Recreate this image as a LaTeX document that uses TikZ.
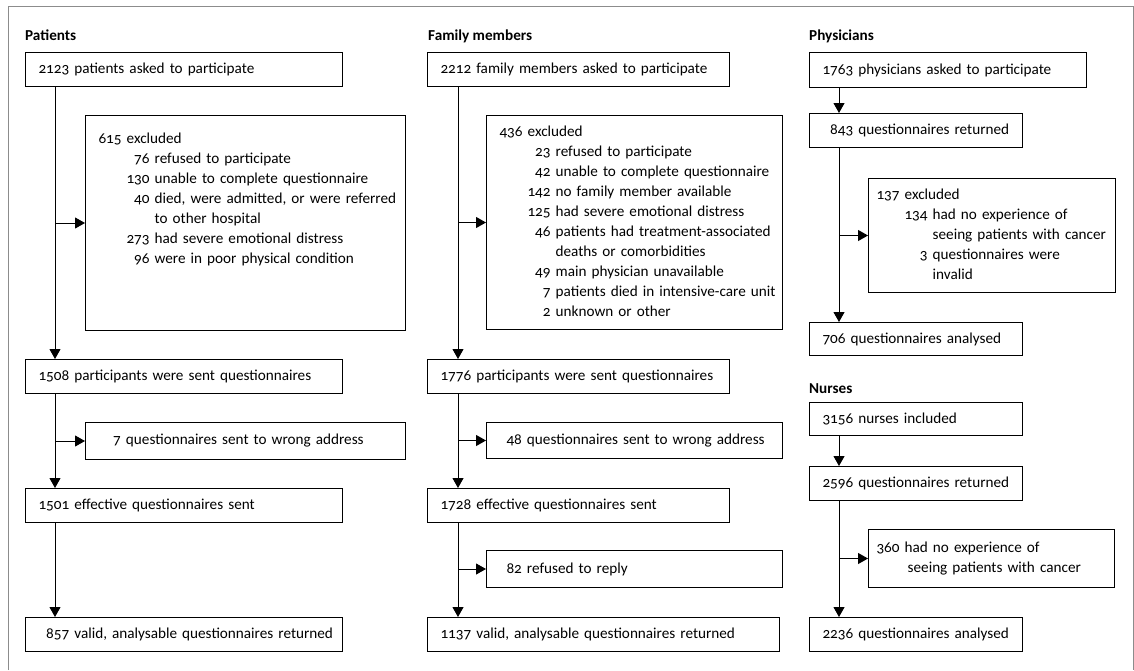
\documentclass[tikz,border=0pt]{standalone}
\usepackage{fontspec}
\setmainfont{Carlito}[Numbers=OldStyle]
\usetikzlibrary{arrows.meta}

\newcommand\txtsize{\fontsize{15.2}{20}\selectfont}

\tikzset{
  box/.style={draw, line width=1pt, anchor=north west, inner xsep=13pt, inner ysep=0pt,
    minimum height=34pt, text width=#1, align=left},
  title/.style={anchor=base west, inner sep=0pt, font=\txtsize\bfseries},
  flow/.style={line width=1pt, -{Triangle[length=10pt,width=11pt]}},
}

\begin{document}
\begin{tikzpicture}[x=1pt, y=-1pt, font=\txtsize]

  \useasboundingbox (0,0) rectangle (1134,670);

  % frame, open at the bottom
  \draw[black!45, line width=1pt] (8,670) -- (8,6) -- (1133,6) -- (1133,670);

  %% Patients
  \node[title] (pt) at (25,40) {Patients};
  \node[box=291] (p1) at (25,52) {\mbox{2123 patients asked to participate}};
  \node[box=294, text height=28pt, text depth=187pt] (pex) at (85,115) {%
    \begin{tabular}[t]{@{\hspace{28pt}}r@{\ }l@{}}
      \multicolumn{2}{@{}l@{}}{615 excluded}\\
      76 & refused to participate\\
      130 & unable to complete questionnaire\\
      40 & died, were admitted, or were referred\\
         & to other hospital\\
      273 & had severe emotional distress\\
      96 & were in poor physical condition
    \end{tabular}};
  \node[box=291] (p2) at (25,359) {\mbox{1508 participants were sent questionnaires}};
  \node[box=280, inner xsep=20pt, minimum height=37pt] (pwa) at (85,422) {\mbox{\hphantom{0}7 questionnaires sent to wrong address}};
  \node[box=291] (p3) at (25,488) {\mbox{1501 effective questionnaires sent}};
  \node[box=291] (p4) at (25,617) {\mbox{\hphantom{0}857 valid, analysable questionnaires returned}};

  \coordinate (px) at (55,0);
  \draw[flow] (p1.south -| px) -- (p2.north -| px); % p1->p2
  \draw[flow] (px |- pex.west) -- (pex.west);
  \draw[flow] (p2.south -| px) -- (p3.north -| px); % p2->p3
  \draw[flow] (px |- pwa.west) -- (pwa.west);
  \draw[flow] (p3.south -| px) -- (p4.north -| px); % p3->p4

  %% Family members
  \node[title] (ft) at (428,40) {Family members};
  \node[box=276] (f1) at (427,52) {\mbox{2212 family members asked to participate}};
  \node[box=270, minimum height=214pt] (fex) at (486,115) {%
    \begin{tabular}{@{\hspace{28pt}}r@{\ }l@{}}
      \multicolumn{2}{@{}l@{}}{436 excluded}\\
      23 & refused to participate\\
      42 & unable to complete questionnaire\\
      142 & no family member available\\
      125 & had severe emotional distress\\
      46 & patients had treatment-associated\\
         & deaths or comorbidities\\
      49 & main physician unavailable\\
      7 & patients died in intensive-care unit\\
      2 & unknown or other
    \end{tabular}};
  \node[box=276] (f2) at (427,359) {\mbox{1776 participants were sent questionnaires}};
  \node[box=256, inner xsep=20pt, minimum height=36pt] (fwa) at (486,422) {\mbox{48 questionnaires sent to wrong address}};
  \node[box=276] (f3) at (427,488) {\mbox{1728 effective questionnaires sent}};
  \node[box=256, inner xsep=20pt, minimum height=37pt] (fref) at (486,550) {\mbox{82 refused to reply}};
  \node[box=326] (f4) at (427,617) {\mbox{1137 valid, analysable questionnaires returned}};

  \coordinate (fx) at (458,0);
  \draw[flow] (f1.south -| fx) -- (f2.north -| fx); % f1->f2
  \draw[flow] (fx |- fex.west) -- (fex.west);
  \draw[flow] (f2.south -| fx) -- (f3.north -| fx); % f2->f3
  \draw[flow] (fx |- fwa.west) -- (fwa.west);
  \draw[flow] (f3.south -| fx) -- (f4.north -| fx); % f3->f4
  \draw[flow] (fx |- fref.west) -- (fref.west);

  %% Physicians
  \node[title] (ht) at (809,40) {Physicians};
  \node[box=251, minimum height=35pt] (h1) at (809,52) {\mbox{1763 physicians asked to participate}};
  \node[box=187] (h2) at (809,113) {\mbox{\hphantom{0}843 questionnaires returned}};
  \node[box=231, inner xsep=8pt, minimum height=114pt] (hex) at (868,178) {%
    \begin{tabular}{@{\hspace{28pt}}r@{\ }l@{}}
      \multicolumn{2}{@{}l@{}}{137 excluded}\\
      134 & had no experience of\\
          & seeing patients with cancer\\
      3 & questionnaires were\\
        & invalid
    \end{tabular}};
  \node[box=187, minimum height=33pt] (h3) at (809,322) {\mbox{706 questionnaires analysed}};

  \coordinate (hx) at (839,0);
  \draw[flow] (h1.south -| hx) -- (h2.north -| hx); % h1->h2
  \draw[flow] (h2.south -| hx) -- (h3.north -| hx); % h2->h3
  \draw[flow] (hx |- hex.west) -- (hex.west);

  %% Nurses
  \node[title] (nt) at (809,393) {Nurses};
  \node[box=187, minimum height=33pt] (n1) at (809,402) {\mbox{3156 nurses included}};
  \node[box=187] (n2) at (809,466) {\mbox{2596 questionnaires returned}};
  \node[box=230, inner xsep=8pt, minimum height=58pt] (nex) at (868,529) {%
    \begin{tabular}{@{}r@{\ }l@{}}
      360 & had no experience of\\
          & \hspace{3pt}seeing patients with cancer
    \end{tabular}};
  \node[box=187] (n3) at (809,617) {\mbox{2236 questionnaires analysed}};

  \draw[flow] (n1.south -| hx) -- (n2.north -| hx); % n1->n2
  \draw[flow] (n2.south -| hx) -- (n3.north -| hx); % n2->n3
  \draw[flow] (hx |- nex.west) -- (nex.west);

\end{tikzpicture}
\end{document}
